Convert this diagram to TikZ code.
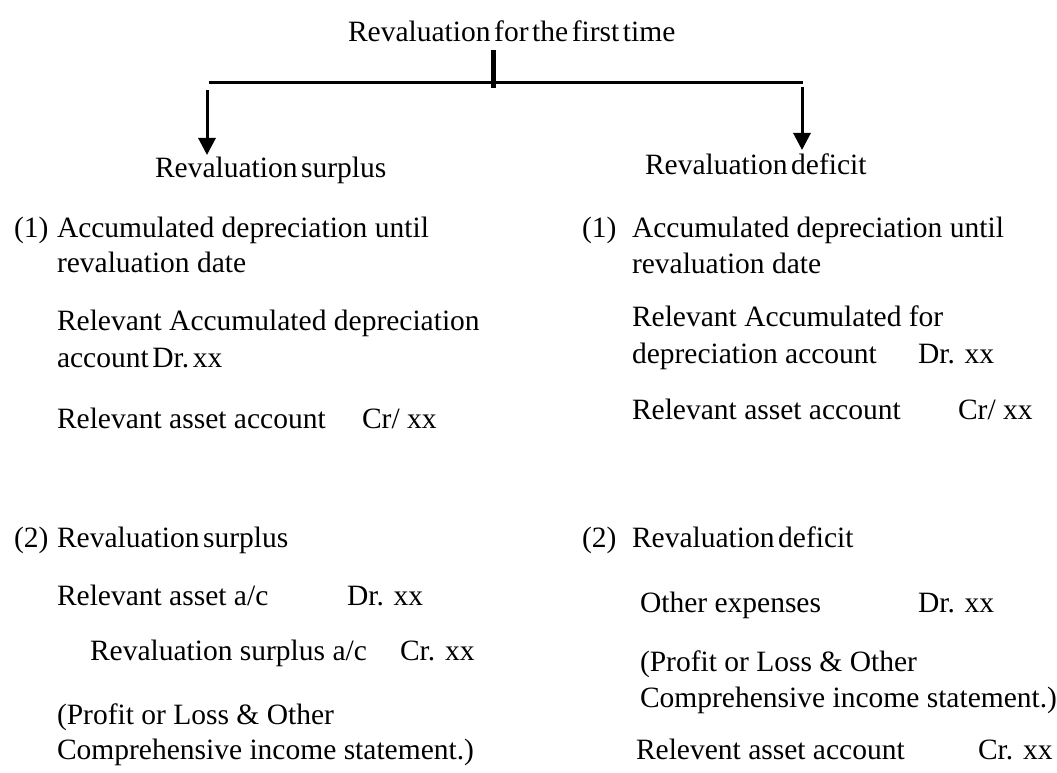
\documentclass[tikz,border=0pt]{standalone}
\usepackage{fontspec}
\setmainfont{Liberation Serif}
\usetikzlibrary{arrows.meta}
\newcommand\narrowspaces{\spaceskip=3.6pt plus 1pt\relax}
\begin{document}
\begin{tikzpicture}[x=1pt,y=-1pt,
  txt/.style={anchor=base west,inner sep=0pt,outer sep=0pt,font=\fontsize{29.5}{36}\selectfont},
  tight/.style={txt,execute at begin node=\narrowspaces},
  bar/.style={line width=3pt},
  tick/.style={line width=5pt},
  arr/.style={line width=3pt,-{Triangle[width=17pt,length=17pt]}}]
\useasboundingbox (0,0) rectangle (1057,773);

% title and the two branch headings
\node[tight] (title) at (348,42) {Revaluation for the first time};
\node[tight] (hs) at (155,177) {Revaluation surplus};
\node[tight] (hd) at (645,175) {Revaluation deficit};

% branching connector
\coordinate (tickTop) at (493,50);
\coordinate (tickBot) at (493,88);
\coordinate (barL) at (208.5,83);
\coordinate (barR) at (803,83);
\coordinate (armL) at (207,90);
\coordinate (tipL) at (207,155);
\coordinate (armR) at (802,87);
\coordinate (tipR) at (802,150);
\draw[tick] (tickTop) -- (tickBot);
\draw[bar] (barL) -- (barR);
\draw[arr] (armL) -- (tipL);
\draw[arr] (armR) -- (tipR);

% surplus entries
\node[txt] (sn1) at (14,237) {(1)};
\node[txt] (s1a) at (57,237) {Accumulated depreciation until};
\node[txt] (s1b) at (57,272) {revaluation date};
\node[txt] (s1c) at (57,330) {Relevant Accumulated depreciation};
\node[tight] (s1d) at (57,367) {account Dr.\ xx};
\node[txt] (s1e) at (57,428) {Relevant asset account};
\node[txt] (s1f) at (362,428) {Cr/ xx};
\node[txt] (sn2) at (14,547) {(2)};
\node[tight] (s2a) at (57,547) {Revaluation surplus};
\node[txt] (s2b) at (57,605) {Relevant asset a/c};
\node[txt] (s2c) at (347,605) {Dr. xx};
\node[txt] (s2d) at (90,660) {Revaluation surplus a/c};
\node[txt] (s2e) at (400,660) {Cr. xx};
\node[txt] (s2f) at (57,724) {(Profit or Loss \& Other};
\node[txt] (s2g) at (57,759) {Comprehensive income statement.)};

% deficit entries
\node[txt] (dn1) at (582,237) {(1)};
\node[txt] (d1a) at (632,237) {Accumulated depreciation until};
\node[txt] (d1b) at (632,273) {revaluation date};
\node[txt] (d1c) at (632,326) {Relevant Accumulated for};
\node[txt] (d1d) at (632,363) {depreciation account};
\node[txt] (d1e) at (918,363) {Dr. xx};
\node[txt] (d1f) at (632,419) {Relevant asset account};
\node[txt] (d1g) at (958,419) {Cr/ xx};
\node[txt] (dn2) at (582,547) {(2)};
\node[tight] (d2a) at (632,547) {Revaluation deficit};
\node[txt] (d2b) at (640,612) {Other expenses};
\node[txt] (d2c) at (918,612) {Dr. xx};
\node[txt] (d2d) at (640,671) {(Profit or Loss \& Other};
\node[txt] (d2e) at (640,707) {Comprehensive income statement.)};
\node[txt] (d2f) at (636,759) {Relevent asset account};
\node[txt] (d2g) at (978,759) {Cr. xx};
\end{tikzpicture}
\end{document}
